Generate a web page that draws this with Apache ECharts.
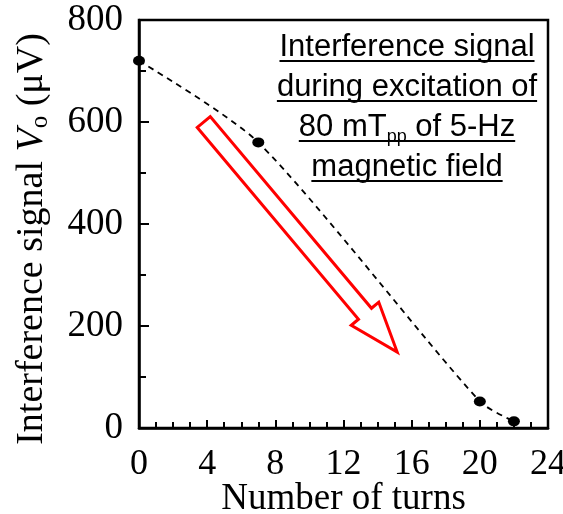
<!DOCTYPE html>
<html>
<head>
<meta charset="utf-8">
<script src="https://cdn.jsdelivr.net/npm/echarts@6/dist/echarts.min.js"></script>
<style>
  html, body { margin: 0; padding: 0; background: #fff; }
  #main { width: 563px; height: 514px; }
</style>
</head>
<body>
<div id="main"></div>
<script>
// data
const turns = [0, 7, 20, 22];
const signal = [720, 560, 52, 13];
const xTicks = [0, 4, 8, 12, 16, 20, 24];
const yTicks = [0, 200, 400, 600, 800];
const noteLines = ['Interference signal', 'during excitation of', null, 'magnetic field'];
// arrow annotation, in data coordinates (tail centre, tip)
const arrowTail = [3.8, 600];
const arrowTip = [15.15, 149];

const serif = '"Liberation Serif", "Times New Roman", serif';
const sans = '"Liberation Sans", Arial, sans-serif';

const chart = echarts.init(document.getElementById('main'));

chart.setOption({
  animation: false,
  grid: {
    left: 139,
    right: 15,
    top: 20,
    bottom: 86,
    show: true,
    borderColor: '#000',
    borderWidth: 2.5,
    containLabel: false,
    outerBoundsMode: 'none'
  },
  xAxis: {
    type: 'value',
    min: xTicks[0],
    max: xTicks[xTicks.length - 1],
    interval: 4,
    name: 'Number of turns',
    nameLocation: 'middle',
    nameGap: 53,
    nameMoveOverlap: false,
    nameTextStyle: { fontFamily: serif, fontSize: 37, color: '#000' },
    axisLine: { show: true, lineStyle: { color: '#000', width: 2.5 } },
    axisTick: { show: true, inside: true, length: 8, lineStyle: { color: '#000', width: 2 } },
    minorTick: { show: true, splitNumber: 4, length: 6, lineStyle: { color: '#000', width: 2 } },
    axisLabel: { fontFamily: serif, fontSize: 36, color: '#000', margin: 19 },
    splitLine: { show: false }
  },
  yAxis: {
    type: 'value',
    min: yTicks[0],
    max: yTicks[yTicks.length - 1],
    interval: 200,
    name: '{a|Interference signal }{i|V}{s|o}{a| (μV)}',
    nameLocation: 'middle',
    nameGap: 86,
    nameMoveOverlap: false,
    nameTextStyle: {
      padding: [0, 30, 0, 0],
      rich: {
        a: { fontFamily: serif, fontSize: 38, color: '#000', lineHeight: 42 },
        i: { fontFamily: serif, fontSize: 38, fontStyle: 'italic', color: '#000', lineHeight: 42 },
        s: { fontFamily: serif, fontSize: 25, color: '#000', lineHeight: 25, verticalAlign: 'bottom' }
      }
    },
    axisLine: { show: true, lineStyle: { color: '#000', width: 2.5 } },
    axisTick: { show: true, inside: true, length: 10, lineStyle: { color: '#000', width: 2 } },
    minorTick: { show: true, splitNumber: 2, length: 7, lineStyle: { color: '#000', width: 2 } },
    axisLabel: { fontFamily: serif, fontSize: 37, color: '#000', margin: 16, padding: [6, 0, 0, 0] },
    splitLine: { show: false }
  },
  series: [{
    type: 'line',
    data: turns.map((t, i) => [t, signal[i]]),
    smooth: 0.25,
    symbol: 'circle',
    symbolSize: [12, 10],
    itemStyle: { color: '#000' },
    lineStyle: { color: '#000', width: 1.8, type: [6, 5] },
    z: 3
  }]
});

// annotation graphics: hollow arrow + underlined note
function buildGraphics() {
  const g = [];
  const t = chart.convertToPixel({ gridIndex: 0 }, arrowTail);
  const p = chart.convertToPixel({ gridIndex: 0 }, arrowTip);
  const dx = p[0] - t[0], dy = p[1] - t[1];
  const len = Math.sqrt(dx * dx + dy * dy);
  const ux = dx / len, uy = dy / len;
  const nx = -uy, ny = ux;
  const shaftW = 8.5, headW = 18, headL = 50;
  const bx = p[0] - ux * headL, by = p[1] - uy * headL;
  const pts = [
    [t[0] + nx * shaftW, t[1] + ny * shaftW],
    [bx + nx * shaftW, by + ny * shaftW],
    [bx + nx * headW, by + ny * headW],
    [p[0], p[1]],
    [bx - nx * headW, by - ny * headW],
    [bx - nx * shaftW, by - ny * shaftW],
    [t[0] - nx * shaftW, t[1] - ny * shaftW]
  ];
  g.push({
    type: 'polygon',
    shape: { points: pts },
    style: { fill: 'none', stroke: '#ff0000', lineWidth: 3 },
    z: 10
  });

  const ctx = document.createElement('canvas').getContext('2d');
  const mainFont = '31px ' + sans;
  const subFont = '18px ' + sans;
  const measure = (s, f) => { ctx.font = f; return ctx.measureText(s).width; };
  const cx = 407;
  const baseTop = 57;
  const lineGap = 40;
  noteLines.forEach((txt, i) => {
    const base = baseTop + i * lineGap;
    let w;
    if (txt !== null) {
      w = measure(txt, mainFont);
      g.push({
        type: 'text', x: cx, y: base - 10, z: 10,
        style: { text: txt, font: mainFont, fill: '#000', align: 'center', verticalAlign: 'middle' }
      });
    } else {
      const a = '80 mT', s = 'pp', b = ' of 5-Hz';
      const wa = measure(a, mainFont), ws = measure(s, subFont), wb = measure(b, mainFont);
      w = wa + ws + wb;
      let x0 = cx - w / 2;
      g.push({ type: 'text', x: x0, y: base - 10, z: 10,
        style: { text: a, font: mainFont, fill: '#000', align: 'left', verticalAlign: 'middle' } });
      g.push({ type: 'text', x: x0 + wa, y: base, z: 10,
        style: { text: s, font: subFont, fill: '#000', align: 'left', verticalAlign: 'middle' } });
      g.push({ type: 'text', x: x0 + wa + ws, y: base - 10, z: 10,
        style: { text: b, font: mainFont, fill: '#000', align: 'left', verticalAlign: 'middle' } });
    }
    g.push({
      type: 'line', z: 10,
      shape: { x1: cx - w / 2, y1: base + 4, x2: cx + w / 2, y2: base + 4 },
      style: { stroke: '#000', lineWidth: 2 }
    });
  });
  return g;
}

chart.setOption({ graphic: buildGraphics() });
</script>
</body>
</html>
